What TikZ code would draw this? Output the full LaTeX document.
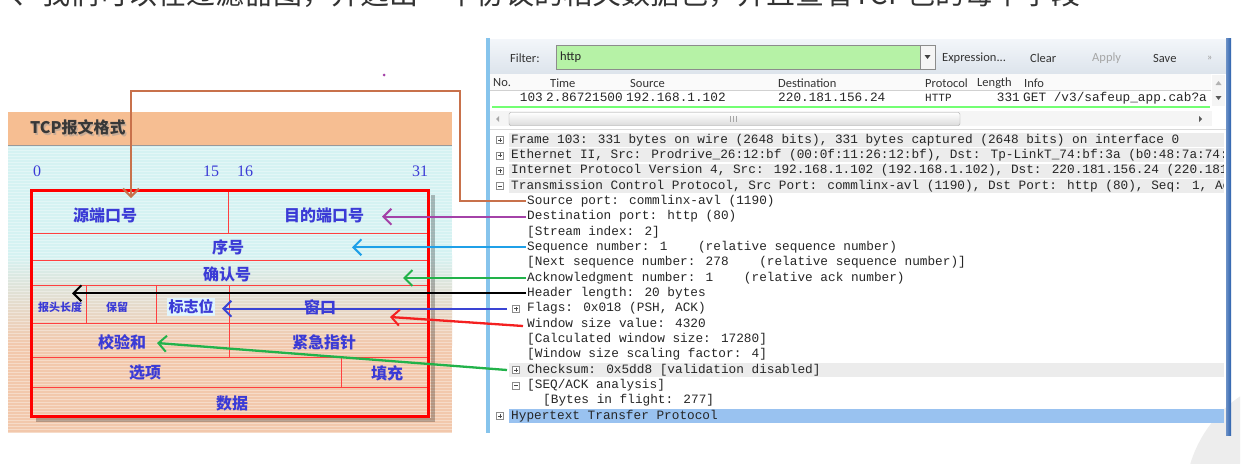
\documentclass[tikz,border=0pt]{standalone}
\usepackage{fontspec}
\setmainfont{Liberation Serif}
\newfontfamily\cjk{Noto Sans CJK SC}
\newfontfamily\uif{Carlito}
\newfontfamily\monof{Liberation Mono}
\usetikzlibrary{arrows.meta}
\definecolor{lblue}{HTML}{3B3BD6}
\definecolor{hdrorange}{HTML}{F6BE92}
\definecolor{bgcyan}{HTML}{D5F2F2}
\definecolor{bgpeach}{HTML}{F2C8AC}
\definecolor{cbrown}{HTML}{C8714B}
\definecolor{cpurple}{HTML}{A442A8}
\definecolor{ccyan}{HTML}{1FA0E8}
\definecolor{cgreen}{HTML}{22B24A}
\definecolor{cblue}{HTML}{3A44D4}
\definecolor{cred}{HTML}{F42020}
\definecolor{filtergreen}{HTML}{B6F2A6}
\definecolor{tooltop}{HTML}{F3F6FA}
\definecolor{toolbot}{HTML}{DDE4EC}
\definecolor{rowgray}{HTML}{ECECEC}
\definecolor{selblue}{HTML}{99C2F0}
\definecolor{frameL}{HTML}{86C4EC}
\definecolor{frameR}{HTML}{2D62AE}
\tikzset{
  tree/.style={font=\monof\fontsize{12.75}{12.75}\selectfont, anchor=west, inner sep=0pt, text height=9pt, text depth=3pt, text=black!85},
  ui/.style={font=\uif\fontsize{12.5}{12.5}\selectfont, anchor=west, inner sep=0pt, text=black!80},
  cell/.style={font=\cjk\bfseries\fontsize{16}{16}\selectfont, text=lblue, inner sep=0pt},
  cellsm/.style={font=\cjk\bfseries\fontsize{11}{11}\selectfont, text=lblue, inner sep=0pt},
  bitnum/.style={font=\fontsize{16}{16}\selectfont, text=lblue, inner sep=0pt},
  cellline/.style={draw=red!75!white, line width=0.8pt},
  arr/.style={line width=2.3pt, -{Straight Barb[length=8pt,width=16pt,line width=2pt]}},
  pbox/.pic={\draw[black!45, fill=white, line width=0.6pt] (-3.5,-3.5) rectangle (3.5,3.5);
             \draw[black!70, line width=0.7pt] (-2,0) -- (2,0) (0,-2) -- (0,2);},
  mbox/.pic={\draw[black!45, fill=white, line width=0.6pt] (-3.5,-3.5) rectangle (3.5,3.5);
             \draw[black!70, line width=0.7pt] (-2,0) -- (2,0);}
}
\begin{document}
\begin{tikzpicture}[x=1pt,y=-1pt]
\useasboundingbox (0,0) rectangle (1252,463);
\fill[white] (0,0) rectangle (1252,463);

% clipped line of text at the very top
\begin{scope}
\clip (0,0) rectangle (1252,9);
\node[anchor=base west, inner sep=0pt, font=\cjk\fontsize{29}{29}\selectfont, text=black!80] (toptxt) at (12,5) {、我们可以在过滤器图，并选出一个协议的相关数据包，并且查看TCP包的每个字段};
\end{scope}

\fill[cpurple] (384,75) circle (1.5);

% ---------------- left panel ----------------
\fill[hdrorange] (8,112) rectangle (452,145);
\fill[bgcyan] (8,145) rectangle (452,255);
\shade[top color=bgcyan, bottom color=bgpeach] (8,255) rectangle (452,345);
\fill[bgpeach] (8,345) rectangle (452,433);
\foreach \s in {0,...,95} \draw[white, opacity=0.35, line width=1pt] (8,147+3*\s) -- (452,147+3*\s);
\draw[black!40, line width=1.5pt] (8,145.5) -- (452,145.5);

\node[anchor=west, inner sep=0pt, font=\cjk\bfseries\fontsize{16}{16}\selectfont, text=black!40, opacity=0.5] at (31.5,129) {TCP报文格式};
\node[anchor=west, inner sep=0pt, font=\cjk\bfseries\fontsize{16}{16}\selectfont, text=black!78] (title) at (30,127) {TCP报文格式};

\node[bitnum] (n0) at (37,171) {0};
\node[bitnum] (n15) at (211,171) {15};
\node[bitnum] (n16) at (245,171) {16};
\node[bitnum] (n31) at (420,171) {31};

\draw[black, opacity=0.25, line width=4pt] (433,195) -- (433,420) -- (36,420);
\draw[cellline] (31,233) -- (428,233) (31,260) -- (428,260) (31,285) -- (428,285)
  (31,323) -- (428,323) (31,357) -- (428,357) (31,387) -- (428,387)
  (228,190) -- (228,233) (86,285) -- (86,323) (156,285) -- (156,323)
  (229,285) -- (229,357) (341,357) -- (341,387);
\draw[red, line width=3pt] (31,190) rectangle (428,416);

\node[cell] (lsrc) at (105,215) {源端口号};
\node[cell] (ldst) at (324,215) {目的端口号};
\node[cell] (lseq) at (228,247) {序号};
\node[cell] (lack) at (227,274) {确认号};
\node[cellsm] (lhdr) at (60,307) {报头长度};
\node[cellsm] (lres) at (117,307) {保留};
\node[cell, fill=cyan!12, inner sep=1.5pt, font=\cjk\bfseries\fontsize{15}{15}\selectfont] (lflg) at (191,307) {标志位};
\node[cell] (lwin) at (320,307) {窗口};
\node[cell] (lchk) at (122,342) {校验和};
\node[cell] (lurg) at (324,342) {紧急指针};
\node[cell] (lopt) at (145,373) {选项};
\node[cell] (lpad) at (387,373) {填充};
\node[cell] (ldat) at (232,403) {数据};

% ---------------- right panel ----------------
\fill[white] (488,38) rectangle (1228,434);
\shade[top color=tooltop, bottom color=toolbot] (490,39) rectangle (1226,73);
\node[ui] (flt) at (510,58) {Filter:};
\draw[black!45, fill=filtergreen, line width=0.6pt] (556,45) rectangle (920,69);
\node[ui, text=black!85] (fltv) at (560,57.5) {http};
\draw[black!45, fill=black!4, line width=0.6pt] (920,45) rectangle (935,69);
\fill[black!75] (924.5,55) -- (930.5,55) -- (927.5,59) -- cycle;
\node[ui] (bexp) at (942,58) {Expression...};
\node[ui] (bclr) at (1030,58) {Clear};
\node[ui, text=black!35] (bapp) at (1092,58) {Apply};
\node[ui] (bsav) at (1153,58) {Save};
\node[ui, text=black!40, font=\uif\fontsize{10}{10}\selectfont] (bmore) at (1207,58) {»};

\fill[black!2] (490,74) rectangle (1211,90);
\draw[black!18, line width=0.6pt] (490,90.5) -- (1211,90.5);
\node[ui, font=\uif\fontsize{12.5}{12.5}\selectfont] (hno) at (493,83) {No.};
\node[ui, font=\uif\fontsize{12.5}{12.5}\selectfont] (htime) at (550,83) {Time};
\node[ui, font=\uif\fontsize{12.5}{12.5}\selectfont] (hsrc) at (630,83) {Source};
\node[ui, font=\uif\fontsize{12.5}{12.5}\selectfont] (hdst) at (778,83) {Destination};
\node[ui, font=\uif\fontsize{12.5}{12.5}\selectfont] (hpro) at (925,83) {Protocol};
\node[ui, font=\uif\fontsize{12.5}{12.5}\selectfont] (hlen) at (977,83) {Length};
\node[ui, font=\uif\fontsize{12.5}{12.5}\selectfont] (hinf) at (1024,83) {Info};

\node[tree, anchor=east] (pno) at (543,98) {103};
\node[tree] (ptime) at (546,98) {2.86721500};
\node[tree] (psrc) at (626,98) {192.168.1.102};
\node[tree] (pdst) at (778,98) {220.181.156.24};
\node[tree, font=\monof\fontsize{11}{11}\selectfont] (ppro) at (925,98) {HTTP};
\node[tree, anchor=east] (plen) at (1020,98) {331};
\node[tree] (pinf) at (1023,98) {GET /v3/safeup\_app.cab?a};
\draw[green!55!white, line width=1.5pt] (492,107) -- (1210,107);

% packet list vertical scrollbar
\fill[black!4] (1212,75) rectangle (1225,106);
\fill[black!30] (1215.5,85) -- (1221.5,85) -- (1218.5,81) -- cycle;
\fill[black!65] (1215.5,96) -- (1221.5,96) -- (1218.5,100) -- cycle;

% horizontal scrollbar
\fill[black!4] (490,111) rectangle (1212,126);
\fill[black!35] (499,116) -- (499,122) -- (496,119) -- cycle;
\shade[top color=white, bottom color=black!14, draw=black!35, rounded corners=2pt] (509,112.5) rectangle (960,125.5);
\draw[black!35, line width=0.6pt] (730,116) -- (730,122) (733,116) -- (733,122) (736,116) -- (736,122);
\fill[black!65] (1199,116) -- (1199,122) -- (1202,119) -- cycle;
\draw[black!15, line width=0.6pt] (490,129) -- (1226,129);

% watermark curve
\begin{scope}
\clip (1150,380) rectangle (1240,463);
\fill[black!7] (1310,500) circle (125);
\end{scope}

% tree rows
\foreach \yy in {140,155.3,170.7,186,370} \fill[rowgray] (509,\yy-7) rectangle (1224,\yy+7);
\fill[selblue] (509,409) rectangle (1224,423);
\pic at (500,140) {pbox};
\pic at (500,155.3) {pbox};
\pic at (500,170.7) {pbox};
\pic at (500,186) {mbox};
\pic at (516,308.7) {pbox};
\pic at (516,370) {pbox};
\pic at (516,385.3) {mbox};
\pic at (500,416) {pbox};
\begin{scope}
\clip (490,130) rectangle (1223,434);
\node[tree] (t0) at (511,140) {Frame 103: 331 bytes on wire (2648 bits), 331 bytes captured (2648 bits) on interface 0};
\node[tree] (t1) at (511,155.3) {Ethernet II, Src: Prodrive\_26:12:bf (00:0f:11:26:12:bf), Dst: Tp-LinkT\_74:bf:3a (b0:48:7a:74:};
\node[tree] (t2) at (511,170.7) {Internet Protocol Version 4, Src: 192.168.1.102 (192.168.1.102), Dst: 220.181.156.24 (220.181};
\node[tree] (t3) at (511,186) {Transmission Control Protocol, Src Port: commlinx-avl (1190), Dst Port: http (80), Seq: 1, Ac};
\node[tree] (t4) at (527,201.3) {Source port: commlinx-avl (1190)};
\node[tree] (t5) at (527,216.7) {Destination port: http (80)};
\node[tree] (t6) at (527,232) {[Stream index: 2]};
\node[tree] (t7) at (527,247.3) {Sequence number: 1~~~~(relative sequence number)};
\node[tree] (t8) at (527,262.7) {[Next sequence number: 278~~~~(relative sequence number)]};
\node[tree] (t9) at (527,278) {Acknowledgment number: 1~~~~(relative ack number)};
\node[tree] (t10) at (527,293.3) {Header length: 20 bytes};
\node[tree] (t11) at (527,308.7) {Flags: 0x018 (PSH, ACK)};
\node[tree] (t12) at (527,324) {Window size value: 4320};
\node[tree] (t13) at (527,339.3) {[Calculated window size: 17280]};
\node[tree] (t14) at (527,354.7) {[Window size scaling factor: 4]};
\node[tree] (t15) at (527,370) {Checksum: 0x5dd8 [validation disabled]};
\node[tree] (t16) at (527,385.3) {[SEQ/ACK analysis]};
\node[tree] (t17) at (543,400.7) {[Bytes in flight: 277]};
\node[tree] (t18) at (511,416) {Hypertext Transfer Protocol};
\end{scope}

% frame bars
\fill[frameL] (486,38) rectangle (490,433);
\shade[left color=frameR!70, right color=frameR] (1226,38) rectangle (1231,435);

% ---------------- connectors ----------------
\coordinate (bk) at (460,91);
\coordinate (pSrc) at (131,198);
\coordinate (pDst) at (382,216.7);
\coordinate (pSeq) at (352,247.3);
\coordinate (pAck) at (403,278);
\coordinate (pHdr) at (72,293.3);
\coordinate (pFlg) at (222,308.7);
\coordinate (pWin) at (390,317);
\coordinate (pChk) at (157,343);
\draw[arr, cbrown, line width=2pt] ([xshift=-1pt]t4.west) -| (bk) -| (pSrc);
\draw[arr, cpurple] ([xshift=-1pt]t5.west) -- (pDst);
\draw[arr, ccyan] ([xshift=-1pt]t7.west) -- (pSeq);
\draw[arr, cgreen] ([xshift=-1pt]t9.west) -- (pAck);
\draw[arr, black] ([xshift=-1pt]t10.west) -- (pHdr);
\draw[arr, cblue] ([xshift=-20pt]t11.west) -- (pFlg);
\draw[arr, cred] ([xshift=-4pt,yshift=-2pt]t12.west) -- (pWin);
\draw[arr, cgreen] ([xshift=-20pt]t15.west) -- (pChk);
\end{tikzpicture}
\end{document}
